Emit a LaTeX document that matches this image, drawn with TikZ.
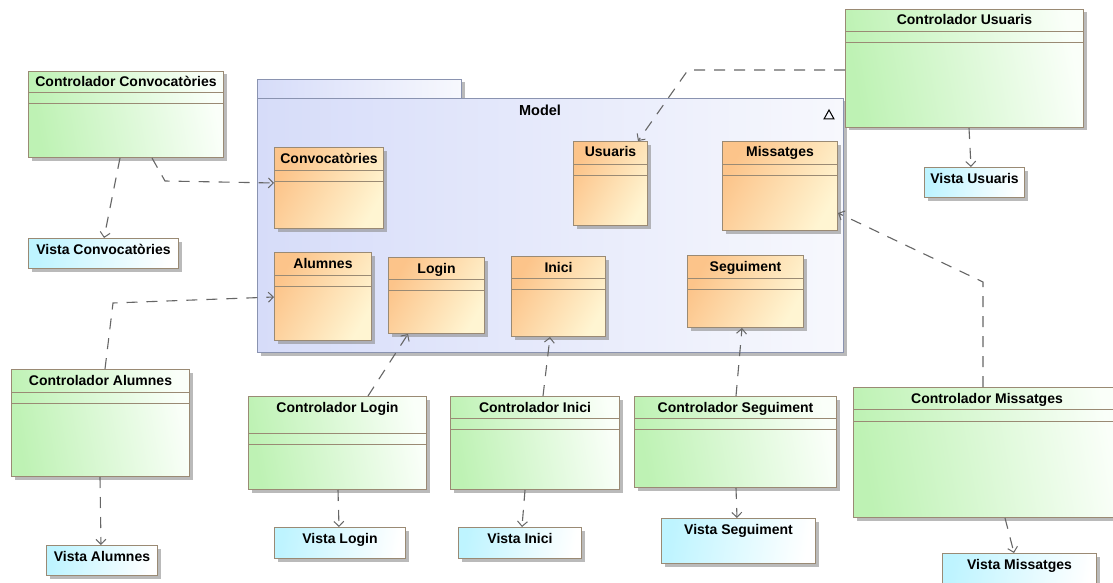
\documentclass[tikz,border=0pt]{standalone}
\usepackage{fontspec}
\setmainfont{Liberation Sans}
\usetikzlibrary{arrows.meta,shadows,calc}
\definecolor{grn}{HTML}{BEF2B4}
\definecolor{grnR}{HTML}{FAFFF9}
\definecolor{orgL}{HTML}{FCC48A}
\definecolor{orgR}{HTML}{FFF5D2}
\definecolor{cyn}{HTML}{BEF4FF}
\definecolor{pkgL}{HTML}{D6DCF9}
\definecolor{pkgR}{HTML}{F7F8FD}
\definecolor{clsb}{HTML}{9A8A74}
\definecolor{pkgb}{HTML}{8A93B0}
\definecolor{conn}{HTML}{666666}
\tikzset{
  shad/.style={drop shadow={shadow xshift=3pt, shadow yshift=-3pt, fill=black!45, opacity=0.6}},
  ctrl/.style={draw=clsb, line width=1pt, left color=grn, right color=grnR, shading angle=100, shad, inner sep=0pt},
  ent/.style={draw=clsb, line width=1pt, left color=orgL, right color=orgR, shading angle=60, shad, inner sep=0pt},
  vista/.style={draw=clsb, line width=1pt, left color=cyn, right color=white, shading angle=80, shad, inner sep=0pt},
  pkg/.style={draw=pkgb, line width=1pt, left color=pkgL, right color=pkgR, shad, inner sep=0pt},
  compline/.style={draw=clsb, line width=1pt},
  titletext/.style={font=\bfseries\fontsize{14}{16}\selectfont, inner sep=0pt, text=black},
  dep/.style={draw=conn, line width=1.1pt, dash pattern=on 11pt off 9pt, -{Straight Barb[length=5pt,width=10pt,line width=1pt]}}
}
\newcommand\umlcls[9]{%
  \node[#2, anchor=north west, minimum width={#5-#3}, minimum height={#6-#4}] (#1) at (#3,#4) {};
  \node[titletext, anchor=base] (#1-t) at ([yshift=-16pt]#1.north) {#9};
  \draw[compline] ([yshift={-(#7-#4)}]#1.north west) -- ([yshift={-(#7-#4)}]#1.north east);
  \draw[compline] ([yshift={-(#8-#4)}]#1.north west) -- ([yshift={-(#8-#4)}]#1.north east);
}
\newcommand\umlview[6]{%
  \node[vista, anchor=north west, minimum width={#4-#2}, minimum height={#5-#3}] (#1) at (#2,#3) {};
  \node[titletext, anchor=base] (#1-t) at ([yshift=-16pt]#1.north) {#6};
}
\begin{document}
\begin{tikzpicture}[x=1pt,y=-1pt]
\clip (0,0) rectangle (1113,583);
\fill[white] (0,0) rectangle (1113,583);

% package Model
\node[pkg, anchor=north west, minimum width=204, minimum height=20] (modeltab) at (257,79) {};
\node[pkg, anchor=north west, minimum width=586, minimum height=254] (model) at (257,98) {};
\node[font=\bfseries\fontsize{14.5}{16}\selectfont, inner sep=0pt, anchor=base] (model-t) at (540,116) {Model};
\draw[line width=1pt, line join=miter] (824,119) -- (834,119) -- (829,110) -- cycle;

% entity classes
\umlcls{conv}{ent}{274}{147}{383}{228}{170}{181}{Convocatòries}
\umlcls{usu}{ent}{573}{141}{647}{225}{164}{175}{Usuaris}
\umlcls{mis}{ent}{722}{141}{837}{230}{164}{175}{Missatges}
\umlcls{alu}{ent}{274}{252}{371}{340}{275}{286}{Alumnes}
\umlcls{login}{ent}{388}{257}{484}{333}{279}{290}{Login}
\umlcls{inici}{ent}{511}{256}{605}{336}{278}{289}{Inici}
\umlcls{seg}{ent}{687}{255}{803}{327}{278}{289}{Seguiment}

% controllers
\umlcls{cc}{ctrl}{28}{71}{223}{157}{93}{104}{Controlador Convocatòries}
\umlcls{cu}{ctrl}{845}{9}{1083}{127}{32}{43}{Controlador Usuaris}
\umlcls{ca}{ctrl}{11}{369}{189}{476}{392}{403}{Controlador Alumnes}
\umlcls{cl}{ctrl}{248}{396}{426}{489}{433}{444}{Controlador Login}
\umlcls{ci}{ctrl}{450}{396}{619}{489}{418}{429}{Controlador Inici}
\umlcls{cs}{ctrl}{634}{396}{836}{487}{418}{429}{Controlador Seguiment}
\umlcls{cm}{ctrl}{853}{387}{1120}{517}{409}{421}{Controlador Missatges}

% views
\umlview{vc}{28}{238}{178}{268}{Vista Convocatòries}
\umlview{vu}{924}{167}{1024}{197}{Vista Usuaris}
\umlview{va}{46}{545}{157}{575}{Vista Alumnes}
\umlview{vl}{274}{527}{405}{558}{Vista Login}
\umlview{vi}{458}{527}{581}{558}{Vista Inici}
\umlview{vs}{661}{518}{815}{563}{Vista Seguiment}
\umlview{vm}{942}{553}{1096}{600}{Vista Missatges}

% dependencies
\draw[dep] (120,0 |- cc.south) -- (104,0 |- vc.north);
\draw[dep] (152,0 |- cc.south) -- (165,181) -- (conv.west |- 0,183);
\draw[dep] (cu.west |- 0,70) -- (688,70) -- (638,0 |- usu.north);
\draw[dep] (969,0 |- cu.south) -- (971,0 |- vu.north);
\draw[dep] (983,0 |- cm.north) -- (983,282) -- (mis.east |- 0,213);
\draw[dep] (1005,0 |- cm.south) -- (1014,0 |- vm.north);
\draw[dep] (105,0 |- ca.north) -- (113,303) -- (alu.west |- 0,297);
\draw[dep] (100,0 |- ca.south) -- (101,0 |- va.north);
\draw[dep] (368,0 |- cl.north) -- (408,0 |- login.south);
\draw[dep] (338,0 |- cl.south) -- (339,0 |- vl.north);
\draw[dep] (543,0 |- ci.north) -- (550,0 |- inici.south);
\draw[dep] (525,0 |- ci.south) -- (522,0 |- vi.north);
\draw[dep] (736,0 |- cs.north) -- (742,0 |- seg.south);
\draw[dep] (736,0 |- cs.south) -- (737,0 |- vs.north);
\end{tikzpicture}
\end{document}
